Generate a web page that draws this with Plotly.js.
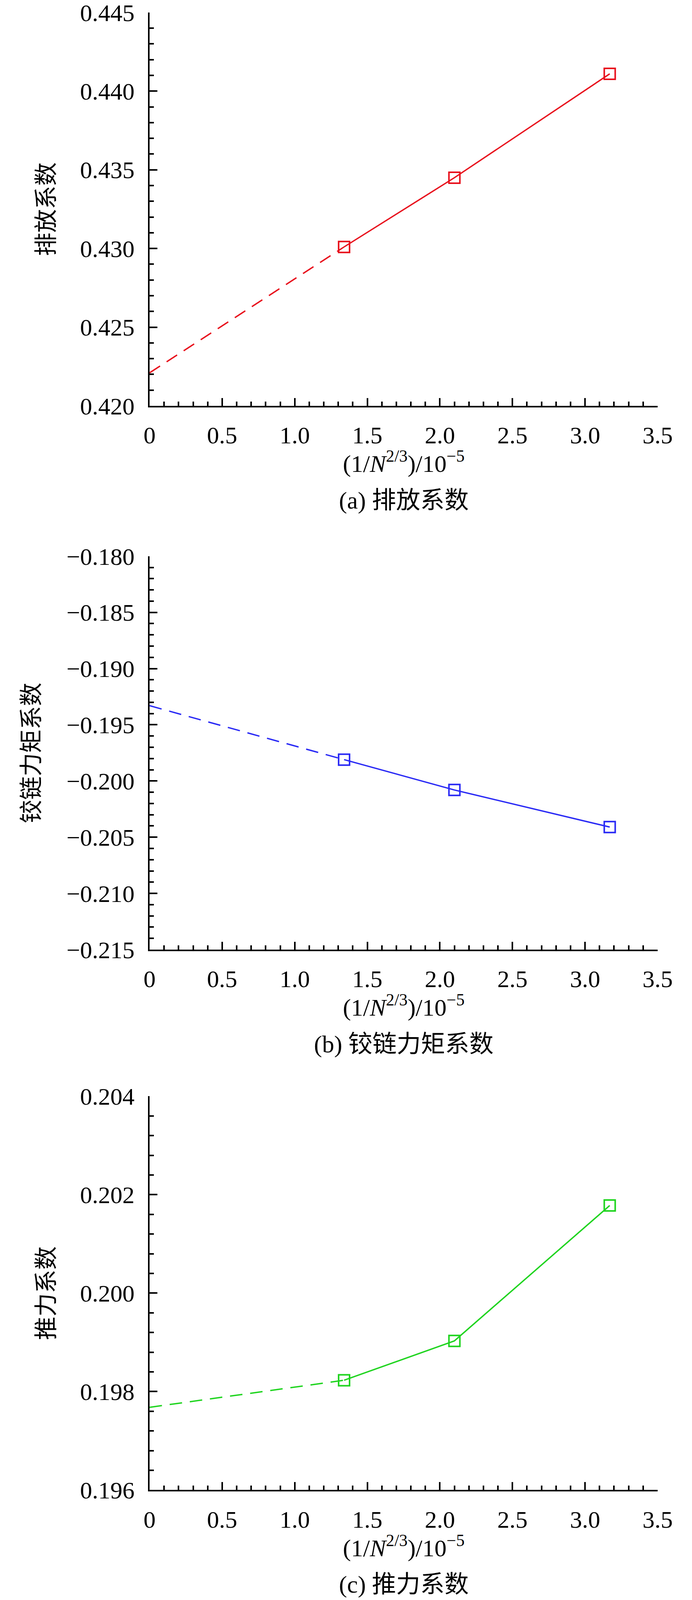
<!DOCTYPE html>
<html>
<head>
<meta charset="utf-8">
<script src="https://cdn.plot.ly/plotly-3.0.1.min.js"></script>
<style>
  html, body { margin: 0; padding: 0; background: #fff; overflow: hidden; }
  #chart { width: 100vw; height: 100vh; }
</style>
</head>
<body>
<div id="chart"></div>
<script>
(() => {
  "use strict";

  // ---- data ----
  const xGrid = [1.34, 2.10, 3.17];          // 1/N^(2/3) / 1e-5
  const xZero = [0, 1.34];                    // extrapolation segment

  const emission = [0.4301, 0.4345, 0.4411];
  const emissionZero = [0.4221, 0.4301];

  const hinge = [-0.1981, -0.2008, -0.2041];
  const hingeZero = [-0.1933, -0.1981];

  const thrust = [0.19823, 0.19903, 0.20178];
  const thrustZero = [0.19768, 0.19823];

  const xTickVals = [0, 0.5, 1.0, 1.5, 2.0, 2.5, 3.0, 3.5];
  const xTickText = ["0", "0.5", "1.0", "1.5", "2.0", "2.5", "3.0", "3.5"];

  const emissionTicks = [0.420, 0.425, 0.430, 0.435, 0.440, 0.445];
  const hingeTicks = [-0.215, -0.210, -0.205, -0.200, -0.195, -0.190, -0.185, -0.180];
  const thrustTicks = [0.196, 0.198, 0.200, 0.202, 0.204];

  const yLabels = ["排放系数", "铰链力矩系数", "推力系数"];
  const captions = ["(a) 排放系数", "(b) 铰链力矩系数", "(c) 推力系数"];
  const colors = ["#e8101c", "#2a2af5", "#1fd41f"];

  // ---- page geometry, in pixels of the 1772x4364 reference ----
  const REF_W = 1772, REF_H = 4364;
  const W = window.innerWidth || REF_W;
  const H = window.innerHeight || REF_H;
  const plotLeft = 383, plotRight = 1684;
  const panels = [
    { top: 34, bottom: 1107, ticks: emissionTicks, minor: 0.001, ytitleX: 119 },
    { top: 1517, bottom: 2590, ticks: hingeTicks, minor: 0.001, ytitleX: 81 },
    { top: 2990, bottom: 4064, ticks: thrustTicks, minor: 0.0004, ytitleX: 119 },
  ];

  const FONT = "Liberation Serif, Times New Roman, Noto Sans CJK SC, serif";
  // positions are given in reference pixels, mapped to paper fractions
  const px = (v) => v / REF_W;
  const py = (v) => 1 - v / REF_H;

  const series = [
    [emissionZero, emission],
    [hingeZero, hinge],
    [thrustZero, thrust],
  ];

  const traces = [];
  const layout = {
    width: W,
    height: H,
    margin: { l: 0, r: 0, t: 0, b: 0 },
    paper_bgcolor: "#fff",
    plot_bgcolor: "#fff",
    showlegend: false,
    font: { family: FONT, color: "#000", size: 62 },
    annotations: [],
  };

  panels.forEach((p, i) => {
    const n = i === 0 ? "" : String(i + 1);
    const xa = "x" + n, ya = "y" + n;
    const [zero, vals] = series[i];
    const lo = p.ticks[0], hi = p.ticks[p.ticks.length - 1];

    traces.push({
      type: "scatter", mode: "lines", xaxis: xa, yaxis: ya,
      x: xZero, y: zero,
      line: { color: colors[i], width: 3.5, dash: "32px,20px" },
      hoverinfo: "skip",
    });
    traces.push({
      type: "scatter", mode: "lines+markers", xaxis: xa, yaxis: ya,
      x: xGrid, y: vals,
      line: { color: colors[i], width: 3.5 },
      marker: { symbol: "square-open", size: 28, color: colors[i], line: { color: colors[i], width: 4 } },
    });

    layout["xaxis" + n] = {
      domain: [px(plotLeft), px(plotRight)],
      anchor: ya,
      range: [0, 3.5],
      showgrid: false, zeroline: false,
      showline: true, linecolor: "#000", linewidth: 4,
      ticks: "inside", ticklen: 20, tickwidth: 4, tickcolor: "#000",
      tickmode: "array", tickvals: xTickVals, ticktext: xTickText,
      ticklabelstandoff: 18, ticklabeloverflow: "allow",
      minor: { tickmode: "linear", tick0: 0, dtick: 0.1, ticks: "inside", ticklen: 11, tickwidth: 4, tickcolor: "#000" },
      tickfont: { family: FONT, size: 62, color: "#000" },
    };
    layout["yaxis" + n] = {
      domain: [py(p.bottom), py(p.top)],
      anchor: xa,
      range: [lo, hi],
      showgrid: false, zeroline: false,
      showline: true, linecolor: "#000", linewidth: 4,
      ticks: "inside", ticklen: 20, tickwidth: 4, tickcolor: "#000",
      tickmode: "array", tickvals: p.ticks,
      ticktext: p.ticks.map((v) => v.toFixed(3).replace("-", "\u2212")),
      ticklabelstandoff: 22, ticklabeloverflow: "allow",
      minor: { tickmode: "linear", tick0: lo, dtick: p.minor, ticks: "inside", ticklen: 11, tickwidth: 4, tickcolor: "#000" },
      tickfont: { family: FONT, size: 62, color: "#000" },
    };

    const mid = (p.top + p.bottom) / 2;
    layout.annotations.push({
      xref: "paper", yref: "paper", x: px(p.ytitleX), y: py(mid),
      text: yLabels[i], textangle: -90, showarrow: false,
      xanchor: "center", yanchor: "middle",
      font: { family: FONT, size: 60, color: "#000" },
    });
    layout.annotations.push({
      xref: "paper", yref: "paper", x: px((plotLeft + plotRight) / 2), y: py(p.bottom + 153),
      text: "(1/<i>N</i><sup>2/3</sup>)/10<sup>−5</sup>", showarrow: false,
      xanchor: "center", yanchor: "middle",
      font: { family: FONT, size: 62, color: "#000" },
    });
    layout.annotations.push({
      xref: "paper", yref: "paper", x: px((plotLeft + plotRight) / 2), y: py(p.bottom + 258),
      text: captions[i], showarrow: false,
      xanchor: "center", yanchor: "middle",
      font: { family: FONT, size: 62, color: "#000" },
    });
  });

  Plotly.newPlot("chart", traces, layout, { staticPlot: true, displayModeBar: false });
})();
</script>
</body>
</html>
